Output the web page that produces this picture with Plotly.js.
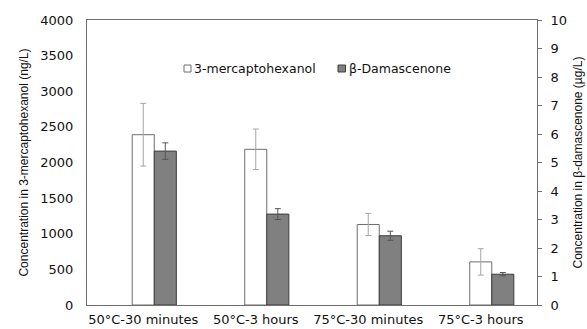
<!DOCTYPE html>
<html>
<head>
<meta charset="utf-8">
<script src="https://cdn.plot.ly/plotly-3.0.1.min.js"></script>
<style>html,body{margin:0;padding:0;background:#fff}#chart{width:587px;height:329px}</style>
</head>
<body>
<div id="chart"></div>
<script>
var categories = ["50°C-30 minutes", "50°C-3 hours", "75°C-30 minutes", "75°C-3 hours"];
var seriesNames = ["3-mercaptohexanol", "β-Damascenone"];
var mercaptoValues = [2390, 2185, 1130, 605];
var mercaptoErrors = [440, 285, 155, 185];
var damascenoneValues = [5.40, 3.19, 2.43, 1.08];
var damascenoneErrors = [0.29, 0.19, 0.16, 0.06];
var leftTicks = [0, 500, 1000, 1500, 2000, 2500, 3000, 3500, 4000];
var rightTicks = [0, 1, 2, 3, 4, 5, 6, 7, 8, 9, 10];

var fontA = "Liberation Sans, Arial, sans-serif";
var fontW = "DejaVu Sans, sans-serif";
var barW = 0.196;
var whiteFill = "#ffffff", whiteLine = "#6e6e6e";
var darkFill = "#808080", darkLine = "#3c3c3c";

var traces = [
  {
    type: "bar", name: seriesNames[0], x: categories, y: mercaptoValues,
    width: barW, offset: -barW/2,
    marker: {color: whiteFill, line: {color: whiteLine, width: 1}},
    error_y: {type: "data", array: mercaptoErrors, visible: true, color: "#a6a6a6", thickness: 1, width: 3},
    yaxis: "y"
  },
  {
    type: "bar", name: seriesNames[1], x: categories, y: damascenoneValues,
    width: barW, offset: barW/2,
    marker: {color: darkFill, line: {color: darkLine, width: 1}},
    error_y: {type: "data", array: damascenoneErrors, visible: true, color: "#555555", thickness: 1, width: 3},
    yaxis: "y2"
  }
];

// custom legend (small square swatches as in the original)
var legendShapes = [
  {type: "rect", xref: "paper", yref: "paper", x0: 0.2156, x1: 0.2311, y0: 0.8175, y1: 0.842,
   fillcolor: whiteFill, line: {color: whiteLine, width: 1}},
  {type: "rect", xref: "paper", yref: "paper", x0: 0.5578, x1: 0.5745, y0: 0.8175, y1: 0.842,
   fillcolor: darkFill, line: {color: darkLine, width: 1}}
];
var legendAnn = [
  {xref: "paper", yref: "paper", x: 0.233, y: 0.8298, xanchor: "left", yanchor: "middle", showarrow: false,
   text: seriesNames[0], font: {family: fontW, size: 12.5, color: "#111"}},
  {xref: "paper", yref: "paper", x: 0.577, y: 0.8298, xanchor: "left", yanchor: "middle", showarrow: false,
   text: seriesNames[1], font: {family: fontW, size: 12.5, color: "#111"}}
];

var layout = {
  width: 587, height: 329,
  margin: {l: 87, r: 50, t: 20, b: 24},
  paper_bgcolor: "#ffffff", plot_bgcolor: "#ffffff",
  font: {family: fontW, size: 12, color: "#222"},
  barmode: "overlay",
  showlegend: false,
  shapes: legendShapes,
  annotations: legendAnn,
  xaxis: {
    type: "category", categoryorder: "array", categoryarray: categories,
    range: [-0.5, 3.5], showline: true, linecolor: "#6e6e6e", linewidth: 1, mirror: true,
    ticks: "", showgrid: false, zeroline: false, ticklabelstandoff: 2,
    tickfont: {family: fontW, size: 13, color: "#111"}
  },
  yaxis: {
    range: [0, 4000], tickvals: leftTicks, ticktext: leftTicks.map(String),
    showline: true, linecolor: "#6e6e6e", linewidth: 1, showgrid: false, zeroline: false,
    ticks: "", ticklabelstandoff: 10,
    tickfont: {family: fontW, size: 13, color: "#111"},
    title: {text: "Concentration in 3-mercaptohexanol (ng/L)", font: {family: fontA, size: 12, color: "#111"}, standoff: 9}
  },
  yaxis2: {
    overlaying: "y", side: "right",
    range: [0, 10], tickvals: rightTicks, ticktext: rightTicks.map(String),
    showline: true, linecolor: "#6e6e6e", linewidth: 1, showgrid: false, zeroline: false,
    ticks: "outside", ticklen: 4, tickcolor: "#6e6e6e", ticklabelstandoff: 6,
    tickfont: {family: fontW, size: 13, color: "#111"},
    title: {text: "Concentration in β-damascenone (µg/L)", font: {family: fontA, size: 12, color: "#111"}, standoff: 7}
  }
};

Plotly.newPlot("chart", traces, layout, {displayModeBar: false, staticPlot: true});
</script>
</body>
</html>
